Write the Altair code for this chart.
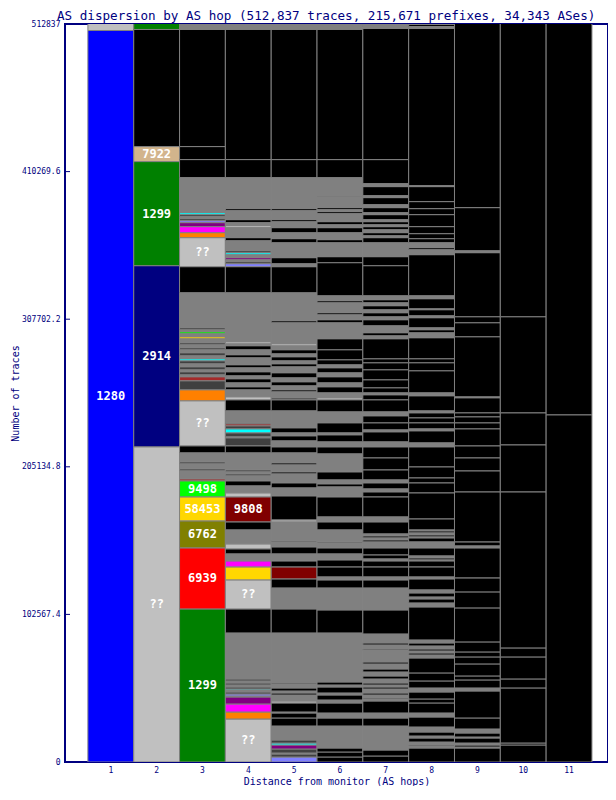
import altair as alt
import pandas as pd

FONT = "DejaVu Sans Mono"
NAVY = "#000080"

palette = {
    "K": "#000000", "G": "#808080", "D": "#404040", "L": "#C0C0C0",
    "B": "#0000FF", "N": "#000080", "E": "#008000", "T": "#D2B48C",
    "R": "#FF0000", "O": "#808000", "Y": "#FFD700", "M": "#00FF00",
    "W": "#A52A2A", "C": "#00FFFF", "Q": "#FF8000", "P": "#FF00FF",
    "U": "#800080", "V": "#8080FF", "X": "#800000",
}

hop1 = [(508320, "B", "1280"), (5000, "L", "")]

hop2 = [(219050, "L", "??"), (125866, "N", "2914"), (72320, "E", "1299"),
        (10431, "T", "7922"), (81361, "K", ""), (5000, "E", "")]

hop3 = [(106395, "E", "1299"), (42419, "R", "6939"), (18775, "O", "6762"),
        (16689, "Y", "58453"), (11126, "M", "9498"), (1391, "W", ""),
        (5563, "G", ""), (1391, "D", ""), (3477, "G", ""), (1391, "D", ""),
        (6258, "G", ""), (4868, "K", ""), (31292, "L", "??"), (7649, "Q", ""),
        (6258, "D", ""), (2782, "W", ""), (1391, "G", ""), (2086, "D", ""),
        (1391, "G", ""), (2086, "D", ""), (2086, "G", ""), (2086, "D", ""),
        (1391, "C", ""), (2086, "G", ""), (2086, "D", ""), (2086, "G", ""),
        (1391, "D", ""), (2086, "G", ""), (1391, "D", ""), (2782, "G", ""),
        (1391, "Y", ""), (2086, "G", ""), (1391, "M", ""), (1391, "G", ""),
        (1391, "D", ""), (24339, "G", ""), (18080, "K", ""), (20166, "L", "??"),
        (3477, "Q", ""), (4172, "P", ""), (2782, "U", ""), (1391, "V", ""),
        (1391, "D", ""), (1391, "G", ""), (1391, "D", ""), (1391, "C", ""),
        (24339, "G", ""), (12517, "K", ""), (9040, "K", ""), (81361, "K", ""),
        (695, "L", ""), (4000, "G", "")]

hop4 = [(29901, "L", "??"), (4868, "Q", ""), (5563, "P", ""), (4868, "U", ""),
        (695, "G", ""), (1391, "V", ""), (1391, "D", ""), (1391, "G", ""),
        (695, "C", ""), (1391, "D", ""), (1391, "G", ""), (1391, "D", ""),
        (1391, "G", ""), (1391, "D", ""), (31987, "G", ""), (16689, "K", ""),
        (20166, "L", "??"), (9040, "Y", ""), (4172, "P", ""), (4868, "G", ""),
        (3477, "K", ""), (3477, "L", ""), (9735, "G", ""), (5563, "K", ""),
        (17384, "X", "9808"), (2782, "L", ""), (4868, "G", ""), (3477, "K", ""),
        (3477, "G", ""), (1391, "D", ""), (1391, "G", ""), (1391, "D", ""),
        (11821, "G", ""), (4868, "K", ""), (5563, "D", ""), (695, "G", ""),
        (2782, "D", ""), (2782, "C", ""), (2086, "D", ""), (1391, "W", ""),
        (695, "D", ""), (8344, "G", ""), (7649, "K", ""), (2086, "L", ""),
        (4868, "G", ""), (2086, "K", ""), (2782, "G", ""), (2782, "K", ""),
        (2086, "G", ""), (2782, "K", ""), (2782, "G", ""), (2086, "K", ""),
        (4868, "G", ""), (2086, "K", ""), (3477, "G", ""), (2782, "K", ""),
        (1391, "G", ""), (1391, "L", ""), (34074, "G", ""), (18080, "K", ""),
        (2086, "V", ""), (1391, "D", ""), (1391, "G", ""), (1391, "U", ""),
        (2086, "G", ""), (1391, "C", ""), (1391, "D", ""), (6954, "G", ""),
        (2086, "K", ""), (6954, "G", ""), (1391, "L", ""), (2086, "G", ""),
        (2086, "K", ""), (6258, "G", ""), (1391, "K", ""), (21557, "G", ""),
        (12517, "K", ""), (90401, "K", ""), (4000, "G", "")]

hop5 = [(3477, "V", ""), (2086, "D", ""), (695, "G", ""), (2782, "D", ""),
        (2782, "U", ""), (1391, "C", ""), (2086, "D", ""), (9735, "G", ""),
        (5563, "K", ""), (3477, "K", ""), (695, "G", ""), (6258, "K", ""),
        (1391, "L", ""), (4172, "G", ""), (1391, "K", ""), (1391, "G", ""),
        (2086, "K", ""), (2782, "G", ""), (695, "K", ""), (34769, "G", ""),
        (16689, "K", ""), (14603, "G", ""), (6258, "K", ""), (8344, "X", ""),
        (4172, "K", ""), (4868, "G", ""), (4868, "K", ""), (3477, "G", ""),
        (695, "K", ""), (13212, "G", ""), (1391, "L", ""), (16689, "K", ""),
        (5563, "G", ""), (3477, "K", ""), (6258, "G", ""), (1391, "K", ""),
        (4868, "G", ""), (1391, "K", ""), (6954, "G", ""), (4172, "K", ""),
        (4172, "G", ""), (3477, "K", ""), (2086, "G", ""), (3477, "K", ""),
        (11821, "G", ""), (7649, "K", ""), (1391, "D", ""), (4172, "G", ""),
        (1391, "K", ""), (2782, "G", ""), (2782, "K", ""), (2782, "G", ""),
        (3477, "K", ""), (4172, "G", ""), (2086, "K", ""), (2086, "G", ""),
        (2782, "K", ""), (2086, "G", ""), (2782, "K", ""), (2782, "G", ""),
        (1391, "L", ""), (14603, "G", ""), (1391, "K", ""), (19470, "G", ""),
        (18080, "K", ""), (2086, "G", ""), (4172, "K", ""), (10431, "G", ""),
        (2782, "K", ""), (4172, "G", ""), (3477, "K", ""), (4172, "G", ""),
        (1391, "K", ""), (6258, "G", ""), (1391, "K", ""), (21557, "G", ""),
        (12517, "K", ""), (90401, "K", ""), (4000, "G", "")]

hop6 = [(3477, "K", ""), (3477, "K", ""), (2782, "K", ""), (15298, "G", ""),
        (5563, "K", ""), (3477, "G", ""), (6954, "K", ""), (2086, "G", ""),
        (3477, "K", ""), (1391, "G", ""), (4172, "K", ""), (1391, "G", ""),
        (2086, "K", ""), (34074, "G", ""), (15994, "K", ""), (15298, "G", ""),
        (5563, "K", ""), (2086, "G", ""), (6954, "K", ""), (4868, "K", ""),
        (4172, "G", ""), (4172, "K", ""), (3477, "G", ""), (695, "K", ""),
        (8344, "G", ""), (5563, "K", ""), (3477, "G", ""), (13907, "K", ""),
        (6954, "G", ""), (2086, "K", ""), (2782, "G", ""), (5563, "K", ""),
        (12517, "G", ""), (4868, "K", ""), (3477, "G", ""), (4868, "K", ""),
        (1391, "G", ""), (6954, "K", ""), (7649, "G", ""), (8344, "K", ""),
        (1391, "L", ""), (3477, "G", ""), (4172, "K", ""), (2782, "G", ""),
        (4172, "K", ""), (2782, "G", ""), (3477, "K", ""), (2086, "G", ""),
        (3477, "K", ""), (6954, "K", ""), (7649, "K", ""), (11126, "G", ""),
        (2086, "K", ""), (3477, "G", ""), (1391, "K", ""), (6954, "G", ""),
        (1391, "K", ""), (3477, "G", ""), (22948, "K", ""), (4172, "K", ""),
        (9735, "G", ""), (2086, "K", ""), (4868, "G", ""), (3477, "K", ""),
        (2086, "G", ""), (2086, "K", ""), (5563, "G", ""), (1391, "K", ""),
        (1391, "G", ""), (1391, "K", ""), (7649, "G", ""), (695, "K", ""),
        (12517, "G", ""), (12517, "K", ""), (90401, "K", ""), (4000, "G", "")]

hop7 = [(4172, "K", ""), (4172, "K", ""), (16689, "G", ""), (5563, "K", ""),
        (3477, "G", ""), (8344, "K", ""), (1391, "G", ""), (695, "K", ""),
        (2086, "G", ""), (1391, "K", ""), (2782, "G", ""), (1391, "K", ""),
        (1391, "G", ""), (1391, "K", ""), (2782, "G", ""), (2086, "K", ""),
        (2782, "G", ""), (2086, "K", ""), (3477, "G", ""), (1391, "K", ""),
        (8344, "G", ""), (695, "K", ""), (2782, "G", ""), (1391, "K", ""),
        (6258, "G", ""), (16689, "K", ""), (15298, "G", ""), (5563, "K", ""),
        (2086, "G", ""), (6954, "K", ""), (4172, "K", ""), (1391, "G", ""),
        (2782, "K", ""), (4868, "K", ""), (4172, "G", ""), (1391, "K", ""),
        (1391, "G", ""), (1391, "K", ""), (1391, "G", ""), (8344, "K", ""),
        (3477, "G", ""), (13907, "K", ""), (3477, "K", ""), (2086, "G", ""),
        (4172, "K", ""), (2086, "G", ""), (6954, "K", ""), (8344, "K", ""),
        (7649, "K", ""), (3477, "G", ""), (6954, "K", ""), (1391, "G", ""),
        (4868, "K", ""), (4868, "K", ""), (2782, "G", ""), (8344, "K", ""),
        (3477, "K", ""), (1391, "G", ""), (3477, "K", ""), (5563, "K", ""),
        (6954, "K", ""), (4868, "K", ""), (2782, "K", ""), (13907, "K", ""),
        (2086, "G", ""), (2086, "K", ""), (4868, "G", ""), (4172, "K", ""),
        (2086, "G", ""), (2782, "K", ""), (2086, "G", ""), (2782, "K", ""),
        (2086, "G", ""), (2086, "K", ""), (2782, "G", ""), (20861, "K", ""),
        (6258, "K", ""), (9735, "G", ""), (3477, "K", ""), (1391, "G", ""),
        (2086, "K", ""), (2086, "G", ""), (2086, "K", ""), (1391, "G", ""),
        (2086, "K", ""), (1391, "G", ""), (3477, "K", ""), (1391, "G", ""),
        (3477, "K", ""), (2086, "G", ""), (4868, "K", ""), (1391, "G", ""),
        (6258, "K", ""), (2086, "G", ""), (16689, "K", ""), (91093, "K", ""),
        (1391, "G", ""), (695, "K", ""), (2000, "G", "")]

hop8 = [(9735, "K", ""), (1391, "G", ""), (695, "K", ""), (2086, "G", ""),
        (2782, "K", ""), (1391, "G", ""), (2782, "K", ""), (3477, "G", ""),
        (6954, "K", ""), (2782, "G", ""), (6954, "K", ""), (2782, "K", ""),
        (4868, "K", ""), (2782, "G", ""), (4868, "K", ""), (5563, "K", ""),
        (10431, "K", ""), (2086, "G", ""), (1391, "K", ""), (1391, "G", ""),
        (1391, "K", ""), (2086, "G", ""), (2086, "K", ""), (2086, "G", ""),
        (22948, "K", ""), (2782, "G", ""), (2782, "K", ""), (1391, "G", ""),
        (2782, "K", ""), (2086, "G", ""), (7649, "K", ""), (1391, "G", ""),
        (6954, "K", ""), (4172, "K", ""), (695, "G", ""), (1391, "K", ""),
        (1391, "G", ""), (5563, "K", ""), (4172, "G", ""), (2782, "K", ""),
        (695, "G", ""), (1391, "K", ""), (1391, "G", ""), (1391, "K", ""),
        (695, "G", ""), (7649, "K", ""), (18080, "K", ""), (6954, "K", ""),
        (3477, "K", ""), (7649, "K", ""), (13907, "K", ""), (2782, "G", ""),
        (8344, "K", ""), (1391, "G", ""), (4172, "K", ""), (3477, "K", ""),
        (3477, "K", ""), (1391, "G", ""), (10431, "K", ""), (2086, "G", ""),
        (15298, "K", ""), (5563, "K", ""), (2782, "K", ""), (14603, "K", ""),
        (3477, "G", ""), (2086, "K", ""), (1391, "G", ""), (6954, "K", ""),
        (1391, "G", ""), (4172, "K", ""), (695, "G", ""), (6954, "K", ""),
        (2086, "G", ""), (28510, "K", ""), (3477, "G", ""), (1391, "K", ""),
        (3477, "G", ""), (2782, "K", ""), (3477, "K", ""), (4868, "K", ""),
        (8344, "K", ""), (4172, "K", ""), (4868, "K", ""), (10431, "K", ""),
        (695, "G", ""), (109173, "K", ""), (1391, "G", ""), (1391, "K", ""),
        (2000, "G", "")]

hop9 = [(9735, "K", ""), (695, "G", ""), (1391, "K", ""), (1391, "G", ""),
        (3477, "K", ""), (695, "G", ""), (2782, "K", ""), (2782, "G", ""),
        (7649, "K", ""), (18775, "K", ""), (2086, "G", ""), (5563, "K", ""),
        (2782, "K", ""), (8344, "K", ""), (4868, "K", ""), (3477, "K", ""),
        (6954, "K", ""), (23643, "K", ""), (11126, "K", ""), (9735, "K", ""),
        (20861, "K", ""), (1391, "G", ""), (2782, "K", ""), (34769, "K", ""),
        (14603, "K", ""), (9040, "K", ""), (8344, "K", ""), (11821, "K", ""),
        (4172, "K", ""), (4172, "K", ""), (2782, "K", ""), (10431, "K", ""),
        (695, "G", ""), (41722, "K", ""), (9735, "K", ""), (4172, "K", ""),
        (44504, "K", ""), (1391, "G", ""), (29901, "K", ""), (130000, "K", "")]

hop10 = [(11821, "K", ""), (1391, "K", ""), (38245, "K", ""), (6258, "K", ""),
         (15298, "K", ""), (6258, "K", ""), (108478, "K", ""), (32682, "K", ""),
         (22252, "K", ""), (66756, "K", ""), (210000, "K", "")]

hop11 = [(241293, "K", ""), (280000, "K", "")]

all_hops = [hop1, hop2, hop3, hop4, hop5, hop6, hop7, hop8, hop9, hop10, hop11]

y_ticks = [0, 102567.4, 205134.8, 307702.2, 410269.6, 512837]
TOTAL = 512837

rows = []
for h, segs in enumerate(all_hops, start=1):
    for i, (n, code, lab) in enumerate(segs):
        rows.append({"hop": h, "idx": i, "count": n, "fill": palette[code], "label": lab})
df = pd.DataFrame(rows)

yscale = alt.Scale(domain=[0, TOTAL], nice=False, zero=True)
xscale = alt.Scale(paddingInner=0, paddingOuter=0.425, align=0.588,
                   domain=list(range(1, 12)))

base = alt.Chart(df).transform_stack(
    stack="count", groupby=["hop"], sort=[alt.SortField("idx", order="ascending")],
    as_=["y0", "y1"]
)

rects = base.mark_rect(stroke="#808080", strokeWidth=1, clip=True).encode(
    x=alt.X("hop:O", scale=xscale,
            axis=alt.Axis(labelAngle=0, ticks=False, domain=False, grid=False,
                          labelFont=FONT, labelFontSize=8, labelColor=NAVY,
                          labelPadding=4, title="Distance from monitor (AS hops)",
                          titleFont=FONT, titleFontSize=10, titleFontWeight="normal",
                          titleColor=NAVY, titlePadding=2)),
    y=alt.Y("y0:Q", scale=yscale,
            axis=alt.Axis(values=y_ticks, labelExpr="'' + datum.value", ticks=False,
                          domain=False, grid=False, labelFont=FONT, labelFontSize=8,
                          labelColor=NAVY, labelPadding=5, title="Number of traces",
                          titleFont=FONT, titleFontSize=10, titleFontWeight="normal",
                          titleColor=NAVY, titlePadding=1)),
    y2="y1:Q",
    fill=alt.Fill("fill:N", scale=None),
)

texts = base.transform_filter("datum.label != ''").transform_calculate(
    ymid="(datum.y0 + datum.y1) / 2"
).mark_text(font=FONT, fontSize=12, fontWeight="bold", color="white",
            baseline="middle", align="center").encode(
    x=alt.X("hop:O", scale=xscale),
    y=alt.Y("ymid:Q", scale=yscale),
    text="label:N",
)

tick_df = pd.DataFrame({"v": y_ticks})
ticks = alt.Chart(tick_df).mark_rule(color=NAVY, strokeWidth=1).encode(
    y=alt.Y("v:Q", scale=yscale),
    x=alt.value(0),
    x2=alt.value(5),
)

chart = alt.layer(rects, texts, ticks).properties(
    width=543, height=738,
    title=alt.TitleParams(
        "AS dispersion by AS hop (512,837 traces, 215,671 prefixes, 34,343 ASes)",
        font=FONT, fontSize=12.6, fontWeight="normal", color=NAVY,
        anchor="start", frame="group", dx=-8, dy=7, offset=4),
    autosize=alt.AutoSizeParams(type="none"),
    padding={"left": 57, "top": 16, "right": 0, "bottom": 24},
).configure_view(stroke=NAVY, strokeWidth=2)

chart.save("out.html", embed_options={"renderer": "svg", "actions": False})
